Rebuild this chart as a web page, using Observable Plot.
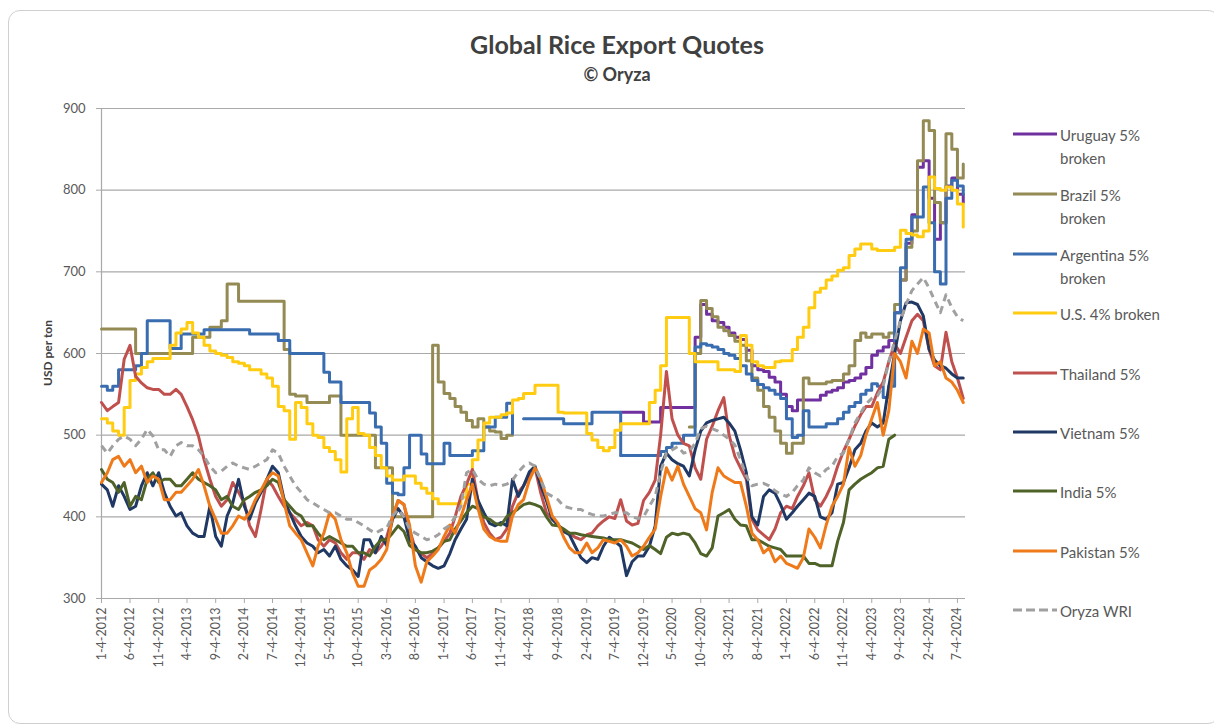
<!DOCTYPE html>
<html><head><meta charset="utf-8">
<script src="https://cdn.jsdelivr.net/npm/d3@7"></script>
<script src="https://cdn.jsdelivr.net/npm/@observablehq/plot@0.6"></script>
<style>
body{margin:0;background:#fff;font-family:Lato,"Noto Sans",sans-serif;width:1214px;height:728px;overflow:hidden;position:relative;}
#frame{position:absolute;left:8px;top:10px;width:1210px;height:712px;border:1px solid #cfcfcf;border-radius:12px;}
#title{position:absolute;left:0;width:1234px;top:29px;text-align:center;font-weight:bold;font-size:25px;color:#404040;}
#subtitle{position:absolute;left:0;width:1234px;top:63px;text-align:center;font-weight:bold;font-size:18px;color:#404040;}
#ylab{position:absolute;left:47px;top:353px;transform:translate(-50%,-50%) rotate(-90deg);font-weight:bold;font-size:12px;color:#404040;white-space:nowrap;}
#chart{position:absolute;left:0;top:0;}
.leg{position:absolute;left:1012px;font-size:15px;color:#595959;line-height:23px;}
.leg svg{position:absolute;left:0;top:0;}
.leg span{position:absolute;left:48px;top:-10px;white-space:nowrap;}
</style></head>
<body>
<div id="frame"></div>
<div id="title">Global Rice Export Quotes</div>
<div id="subtitle">© Oryza</div>
<div id="ylab">USD per ton</div>
<div id="chart"></div>
<div id="legend"></div>
<script>
const seriesNames = ["Uruguay 5% broken","Brazil 5% broken","Argentina 5% broken","U.S. 4% broken","Thailand 5%","Vietnam 5%","India 5%","Pakistan 5%","Oryza WRI"];
const legendLines = [["Uruguay 5%","broken"],["Brazil 5%","broken"],["Argentina 5%","broken"],["U.S. 4% broken"],["Thailand 5%"],["Vietnam 5%"],["India 5%"],["Pakistan 5%"],["Oryza WRI"]];
const yTicks = [300,400,500,600,700,800,900];
const xTickDates = ["2012-01-04","2012-06-04","2012-11-04","2013-04-04","2013-09-04","2014-02-04","2014-07-04","2014-12-04","2015-05-04","2015-10-04","2016-03-04","2016-08-04","2017-01-04","2017-06-04","2017-11-04","2018-04-04","2018-09-04","2019-02-04","2019-07-04","2019-12-04","2020-05-04","2020-10-04","2021-03-04","2021-08-04","2022-01-04","2022-06-04","2022-11-04","2023-04-04","2023-09-04","2024-02-04","2024-07-04"];
const xDomain = ["2012-01-04","2024-08-16"];

// monthly quotes (USD/ton); start dates per series
const uruguayStart = "2019-08-04";
const uruguay = [528,528,528,528,516,516,516,534,534,534,534,534,534,620,660,648,640,638,632,625,620,617,604,585,580,578,571,565,550,535,530,543,543,543,543,549,553,555,558,565,567,570,575,583,598,603,608,616,650,690,735,770,828,836,790,740,760,805,815,795,785];

const brazilStart = "2012-01-04";
const brazil = [630,630,630,630,630,630,600,600,600,600,600,600,600,600,600,600,620,620,620,632,632,640,685,685,664,664,664,664,664,664,664,664,605,550,548,548,540,540,540,540,548,548,500,500,500,500,500,500,460,460,460,400,400,400,400,400,400,400,610,565,551,545,535,528,518,510,520,510,505,504,496,500,500,
null,null,null,null,null,null,null,null,null,null,null,null,null,null,null,null,null,null,
475,475,475,475,475,475,475,null,null,null,null,null,
510,600,665,655,645,632,628,622,615,610,591,570,555,535,522,505,490,478,490,490,570,563,563,563,565,567,567,575,585,616,625,620,624,624,620,625,660,690,730,750,836,885,873,785,760,869,850,815,832];

const argentinaStart = "2012-01-04";
const argentina = [560,555,560,580,580,580,585,600,640,640,640,640,606,606,624,624,624,624,629,629,629,629,629,629,629,629,624,624,624,624,624,616,616,600,600,600,600,600,600,577,565,565,540,540,540,540,540,527,510,490,441,429,427,460,500,500,477,465,465,465,490,475,475,475,475,481,481,510,510,522,522,539,502,null,
520,520,520,520,520,520,520,514,514,514,514,514,528,528,528,528,528,475,475,475,475,475,475,475,480,485,490,490,500,500,608,612,610,608,605,600,598,594,585,575,567,562,558,555,550,545,520,497,500,530,510,510,510,514,514,520,528,535,540,550,555,563,560,546,560,650,705,740,767,767,804,760,700,685,790,812,805,795];

const usStart = "2012-01-04";
const us = [520,515,505,500,534,567,575,583,590,594,594,594,610,625,630,638,625,620,610,603,600,598,595,590,588,585,580,580,575,570,560,535,530,495,540,534,514,500,497,485,480,470,455,520,534,502,500,485,475,460,450,445,445,450,450,441,435,429,422,416,416,416,416,424,440,470,494,515,522,522,525,527,543,545,551,551,561,561,561,561,528,527,527,527,527,502,494,485,481,485,506,514,514,514,514,514,540,555,585,644,644,644,644,600,590,590,590,590,580,580,580,578,622,610,590,585,583,583,590,591,591,605,620,632,656,675,680,690,695,702,705,720,728,734,734,728,726,726,726,730,751,747,745,743,750,816,802,800,804,800,783,755];

const thailandStart = "2012-01-04";
const thailand = [540,530,535,540,593,610,572,564,558,556,556,550,550,556,550,535,519,499,470,446,425,413,421,442,430,417,389,376,409,446,438,425,413,405,397,389,393,389,372,364,372,368,356,348,356,356,348,360,356,364,375,400,420,415,385,360,355,350,355,362,370,380,400,425,440,458,420,393,380,372,375,385,413,430,438,450,460,429,405,397,390,382,380,375,372,378,380,389,395,400,398,421,395,390,392,420,430,445,500,578,520,500,490,487,460,446,495,511,530,546,500,474,460,446,397,384,378,372,385,405,413,410,425,438,454,421,413,425,440,462,480,495,511,525,535,535,552,565,590,612,600,620,640,648,640,605,585,580,626,590,570,545];

const vietnamStart = "2012-01-04";
const vietnam = [440,433,413,438,425,409,413,438,454,438,454,430,413,401,405,389,380,376,376,413,376,364,401,417,446,413,397,417,430,446,462,454,421,405,389,376,368,364,356,360,352,364,348,340,335,327,372,372,356,376,365,397,410,400,372,364,350,345,340,337,340,355,372,385,397,446,420,405,392,389,393,389,446,425,438,455,462,438,420,397,390,382,378,364,350,344,350,348,364,375,370,364,328,345,352,352,364,389,462,478,470,465,462,450,482,505,515,518,520,522,515,505,482,454,400,390,425,433,429,415,397,405,413,421,429,425,400,397,405,440,442,460,482,490,505,515,510,515,560,600,640,662,663,660,646,605,592,585,582,575,570,570];

const indiaStart = "2012-01-04";
const india = [458,446,442,430,442,413,425,421,446,454,442,446,446,438,438,446,454,446,442,438,433,421,425,413,409,421,425,430,433,438,446,442,421,413,405,401,389,389,380,372,376,372,368,364,364,356,356,352,364,372,372,380,389,382,365,360,356,356,358,362,370,372,385,395,405,413,410,400,397,392,390,400,405,410,415,417,415,412,400,390,389,385,380,380,378,377,376,375,374,372,372,372,370,368,364,360,365,360,355,375,380,378,380,378,368,355,352,362,401,405,409,397,390,389,372,372,368,364,362,360,352,352,352,352,343,343,340,340,340,370,393,433,440,446,450,454,460,462,495,500];

const pakistanStart = "2012-01-04";
const pakistan = [442,454,470,474,462,470,454,462,442,450,446,421,421,430,430,438,446,458,438,413,397,380,380,389,401,397,405,421,433,446,454,450,417,389,380,372,356,340,364,380,405,397,372,356,331,315,315,335,340,348,360,400,420,415,390,340,320,345,352,360,376,390,380,400,421,440,410,385,376,372,370,370,401,415,421,445,460,446,425,401,392,375,362,356,356,368,356,362,372,370,368,372,364,352,356,364,375,385,425,460,445,462,440,425,410,405,384,430,460,450,446,442,442,413,380,372,356,362,345,352,343,340,337,350,385,375,362,390,413,425,440,485,462,475,500,520,540,500,530,600,590,570,615,600,630,625,585,590,570,565,555,540];

const wriStart = "2012-01-04";
const wri = [487,478,487,495,499,495,487,495,507,499,482,482,474,487,491,487,487,482,474,462,454,456,462,466,462,460,458,462,466,470,482,478,462,450,438,430,421,417,413,409,405,405,401,397,397,393,389,384,380,384,386,401,409,400,385,380,376,372,374,378,385,390,400,413,454,458,446,440,438,440,438,440,445,455,462,466,462,445,429,425,421,413,411,409,409,405,403,401,401,403,405,405,405,400,398,400,413,425,454,478,482,486,478,480,490,508,511,508,505,500,495,488,470,450,438,440,441,438,432,428,425,430,438,445,460,454,450,458,462,474,478,495,515,527,538,545,548,560,590,615,640,660,677,685,693,680,665,650,672,656,645,640];

const colors = ["#7030A0","#948A54","#3A6DB0","#FFCC11","#C0504D","#1F3864","#4F6228","#EE7A1A","#A0A0A0"];
const starts = [uruguayStart,brazilStart,argentinaStart,usStart,thailandStart,vietnamStart,indiaStart,pakistanStart,wriStart];
const values = [uruguay,brazil,argentina,us,thailand,vietnam,india,pakistan,wri];
const stepped = [true,true,true,true,false,false,false,false,false];

const rowsFor = (k) => values[k].map((v,i) => ({date: d3.utcMonth.offset(new Date(starts[k]+"T00:00:00Z"), i), value: v, series: seriesNames[k]}));

const lineMarks = seriesNames.map((name,k) => Plot.line(rowsFor(k), {
  x: "date", y: "value", stroke: colors[k], strokeWidth: 3,
  curve: stepped[k] ? "step-after" : "linear",
  strokeDasharray: k === 8 ? "7,5" : null,
  strokeLinecap: k === 8 ? "butt" : "round",
  strokeLinejoin: "round"
}));

const fmt = d3.utcFormat("%-m-%-d-%Y");
const xTicks = xTickDates.map(s => new Date(s+"T00:00:00Z"));

const chart = Plot.plot({
  width: 985, height: 690,
  marginLeft: 101, marginRight: 20, marginTop: 108, marginBottom: 92,
  x: {type: "utc", domain: xDomain.map(s => new Date(s+"T00:00:00Z"))},
  y: {domain: [300, 900]},
  style: {fontFamily: "Lato, 'Noto Sans', sans-serif", fontSize: "13px", color: "#595959", background: "transparent", overflow: "visible"},
  marks: [
    Plot.gridY(yTicks, {stroke: "#a9a9a9", strokeOpacity: 1, strokeWidth: 1.2}),
    Plot.ruleX([xTicks[0]], {stroke: "#a9a9a9", strokeWidth: 1.2}),
    Plot.ruleY([300], {stroke: "#a9a9a9", strokeWidth: 1.2}),
    Plot.axisY({ticks: yTicks, tickSize: 5, tickPadding: 11, stroke: "#a9a9a9", fill: "#595959", fontSize: 13, label: null}),
    Plot.axisX({ticks: xTicks, tickFormat: fmt, tickRotate: -90, tickSize: 5, tickPadding: 4, stroke: "#a9a9a9", fill: "#595959", fontSize: 12.5, label: null}),
    ...lineMarks
  ]
});
document.getElementById("chart").appendChild(chart);

// legend
const legY = [134,194,254,313,373,432,491,551,610];
const leg = document.getElementById("legend");
seriesNames.forEach((name,k) => {
  const d = document.createElement("div");
  d.className = "leg";
  d.style.top = legY[k] + "px";
  const dash = k === 8 ? ' stroke-dasharray="9,4"' : '';
  d.innerHTML = `<svg width="46" height="6" style="top:-3px"><line x1="1" x2="45" y1="3" y2="3" stroke="${colors[k]}" stroke-width="3"${dash}/></svg><span>${legendLines[k].join("<br>")}</span>`;
  leg.appendChild(d);
});
</script>
</body></html>
